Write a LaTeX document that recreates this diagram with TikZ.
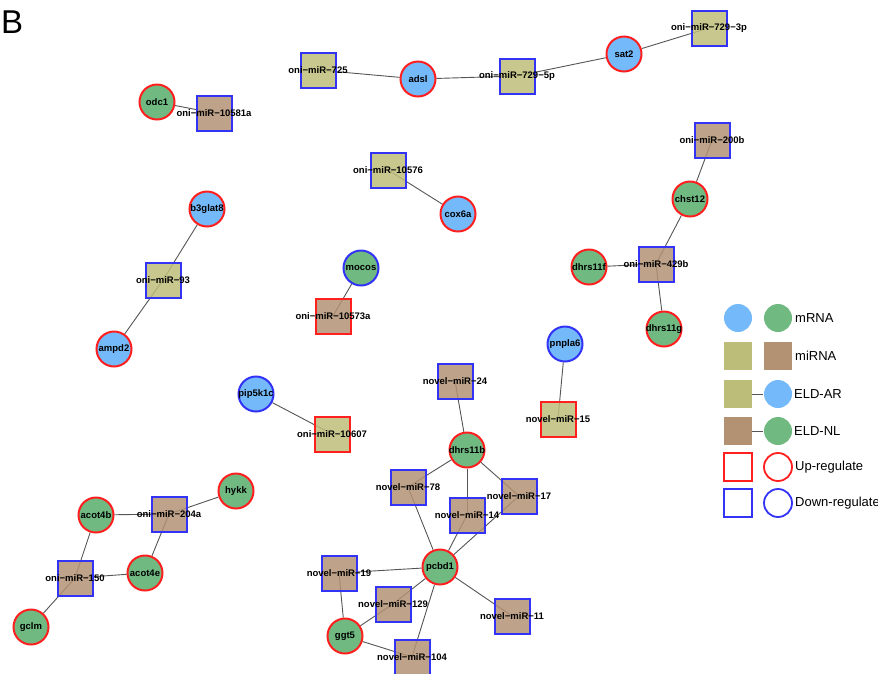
\documentclass[tikz,border=0pt]{standalone}
\usepackage{fontspec}
\setmainfont{Liberation Sans}
\usepackage{xcolor}
\usepackage{tikz}
\usetikzlibrary{positioning,backgrounds}

\definecolor{arblue}{HTML}{74B9F9}
\definecolor{nlgreen}{HTML}{70BA82}
\definecolor{arolive}{HTML}{BDBD7A}
\definecolor{nlbrown}{HTML}{B39274}
\definecolor{upred}{HTML}{FF1F1F}
\definecolor{downblue}{HTML}{3333F5}
\definecolor{edgegray}{HTML}{555555}

\tikzset{
  gene/.style={circle,minimum size=35pt,inner sep=0pt,line width=2pt},
  mir/.style={rectangle,minimum size=35pt,inner sep=0pt,line width=2pt,fill opacity=0.85,
    text opacity=1},
  ar/.style={fill=arblue},
  nl/.style={fill=nlgreen},
  armir/.style={fill=arolive},
  nlmir/.style={fill=nlbrown},
  up/.style={draw=upred},
  down/.style={draw=downblue},
  txt/.style={label={[font=\bfseries\fontsize{9.5}{10}\selectfont,inner sep=0pt]center:#1}},
  link/.style={draw=edgegray,line width=0.9pt},
  legtxt/.style={anchor=west,inner sep=0pt,font=\fontsize{13}{14}\selectfont},
  legsym/.style={minimum size=28pt,inner sep=0pt,line width=1.8pt}
}

\begin{document}
\begin{tikzpicture}[x=1pt,y=-1pt]
    \useasboundingbox (0,0) rectangle (878,673);
    \node[anchor=base west,inner sep=0pt,font=\fontsize{33}{33}\selectfont] (panel) at (1,33) {B};

    % oni miRNAs and their targets
    \node[gene,nl,up,txt=odc1] (odc1) at (157,102) {};
    \node[mir,nlmir,down,txt={oni−miR−10581a}] (m10581a) at (214,113) {};
    \node[mir,armir,down,txt={oni−miR−725}] (m725) at (318,70) {};
    \node[gene,ar,up,txt=adsl] (adsl) at (418,79) {};
    \node[mir,armir,down,txt={oni−miR−729−5p}] (m7295p) at (517,76) {};
    \node[gene,ar,up,txt=sat2] (sat2) at (624,54) {};
    \node[mir,armir,down,txt={oni−miR−729−3p}] (m7293p) at (709,28) {};
    \node[mir,armir,down,txt={oni−miR−10576}] (m10576) at (388,170) {};
    \node[gene,ar,up,txt=cox6a] (cox6a) at (458,214) {};
    \node[mir,nlmir,down,txt={oni−miR−200b}] (m200b) at (712,140) {};
    \node[gene,nl,up,txt=chst12] (chst12) at (690,199) {};
    \node[gene,nl,up,txt=dhrs11f] (dhrs11f) at (589,267) {};
    \node[mir,nlmir,down,txt={oni−miR−429b}] (m429b) at (656,264) {};
    \node[gene,nl,up,txt=dhrs11g] (dhrs11g) at (664,329) {};
    \node[gene,ar,up,txt=b3glat8] (b3glat8) at (207,209) {};
    \node[mir,armir,down,txt={oni−miR−93}] (m93) at (163,280) {};
    \node[gene,ar,up,txt=ampd2] (ampd2) at (114,349) {};
    \node[gene,nl,down,txt=mocos] (mocos) at (361,268) {};
    \node[mir,nlmir,up,txt={oni−miR−10573a}] (m10573a) at (333,316) {};
    \node[gene,ar,down,txt=pip5k1c] (pip5k1c) at (256,394) {};
    \node[mir,armir,up,txt={oni−miR−10607}] (m10607) at (332,434) {};
    \node[gene,nl,up,txt=hykk] (hykk) at (236,491) {};
    \node[gene,nl,up,txt=acot4b] (acot4b) at (96,515) {};
    \node[mir,nlmir,down,txt={oni−miR−204a}] (m204a) at (169,514) {};
    \node[gene,nl,up,txt=acot4e] (acot4e) at (145,573) {};
    \node[mir,nlmir,down,txt={oni−miR−150}] (m150) at (75,578) {};
    \node[gene,nl,up,txt=gclm] (gclm) at (31,627) {};

    % novel miRNAs
    \node[gene,ar,down,txt=pnpla6] (pnpla6) at (565,344) {};
    \node[mir,armir,up,txt={novel−miR−15}] (n15) at (558,419) {};
    \node[mir,nlmir,down,txt={novel−miR−24}] (n24) at (455,381) {};
    \node[gene,nl,up,txt=dhrs11b] (dhrs11b) at (467,450) {};
    \node[mir,nlmir,down,txt={novel−miR−78}] (n78) at (408,487) {};
    \node[mir,nlmir,down,txt={novel−miR−17}] (n17) at (519,496) {};
    \node[mir,nlmir,down,txt={novel−miR−14}] (n14) at (467,515) {};
    \node[gene,nl,up,txt=pcbd1] (pcbd1) at (440,567) {};
    \node[mir,nlmir,down,txt={novel−miR−19}] (n19) at (339,573) {};
    \node[mir,nlmir,down,txt={novel−miR−129}] (n129) at (393,604) {};
    \node[mir,nlmir,down,txt={novel−miR−11}] (n11) at (512,616) {};
    \node[gene,nl,up,txt=ggt5] (ggt5) at (345,636) {};
    \node[mir,nlmir,down,txt={novel−miR−104}] (n104) at (412,657) {};

    % legend
    \node[legsym,circle,ar] (lg1) at (738,318) {};
    \node[legsym,circle,nl] (lg2) at (778,318) {};
    \node[legtxt] (lgt1) at (795,318) {mRNA};
    \node[legsym,armir] (lg3) at (738,356) {};
    \node[legsym,nlmir] (lg4) at (778,356) {};
    \node[legtxt] (lgt2) at (795,356) {miRNA};
    \node[legsym,armir] (lg5) at (738,394) {};
    \node[legsym,circle,ar] (lg6) at (778,394) {};
    \node[legtxt] (lgt3) at (794,394) {ELD-AR};
    \node[legsym,nlmir] (lg7) at (738,431) {};
    \node[legsym,circle,nl] (lg8) at (778,431) {};
    \node[legtxt] (lgt4) at (794,431) {ELD-NL};
    \node[legsym,draw=upred] (lg9) at (738,467) {};
    \node[legsym,circle,draw=upred] (lg10) at (778,467) {};
    \node[legtxt] (lgt5) at (795,467) {Up-regulate};
    \node[legsym,draw=downblue] (lg11) at (738,503) {};
    \node[legsym,circle,draw=downblue] (lg12) at (778,503) {};
    \node[legtxt] (lgt6) at (795,503) {Down-regulate};

    \begin{scope}[on background layer]
    \draw[link] (odc1) -- (m10581a.center);
    \draw[link] (m725.center) -- (adsl);
    \draw[link] (adsl) -- (m7295p.center);
    \draw[link] (m7295p.center) -- (sat2);
    \draw[link] (sat2) -- (m7293p.center);
    \draw[link] (m10576.center) -- (cox6a);
    \draw[link] (m200b.center) -- (chst12);
    \draw[link] (chst12) -- (m429b.center);
    \draw[link] (dhrs11f) -- (m429b.center);
    \draw[link] (m429b.center) -- (dhrs11g);
    \draw[link] (b3glat8) -- (m93.center);
    \draw[link] (m93.center) -- (ampd2);
    \draw[link] (mocos) -- (m10573a.center);
    \draw[link] (pip5k1c) -- (m10607.center);
    \draw[link] (hykk) -- (m204a.center);
    \draw[link] (acot4b) -- (m204a.center);
    \draw[link] (m204a.center) -- (acot4e);
    \draw[link] (acot4b) -- (m150.center);
    \draw[link] (m150.center) -- (acot4e);
    \draw[link] (m150.center) -- (gclm);
    \draw[link] (pnpla6) -- (n15.center);
    \draw[link] (n24.center) -- (dhrs11b);
    \draw[link] (dhrs11b) -- (n78.center);
    \draw[link] (dhrs11b) -- (n14.center);
    \draw[link] (dhrs11b) -- (n17.center);
    \draw[link] (n78.center) -- (pcbd1);
    \draw[link] (n14.center) -- (pcbd1);
    \draw[link] (n17.center) -- (pcbd1);
    \draw[link] (n19.center) -- (pcbd1);
    \draw[link] (n129.center) -- (pcbd1);
    \draw[link] (n104.center) -- (pcbd1);
    \draw[link] (n11.center) -- (pcbd1);
    \draw[link] (n19.center) -- (ggt5);
    \draw[link] (ggt5) -- (n129.center);
    \draw[link] (ggt5) -- (n104.center);
    \draw[link] (lg5.center) -- (lg6);
    \draw[link] (lg7.center) -- (lg8);
    \end{scope}
\end{tikzpicture}
\end{document}
